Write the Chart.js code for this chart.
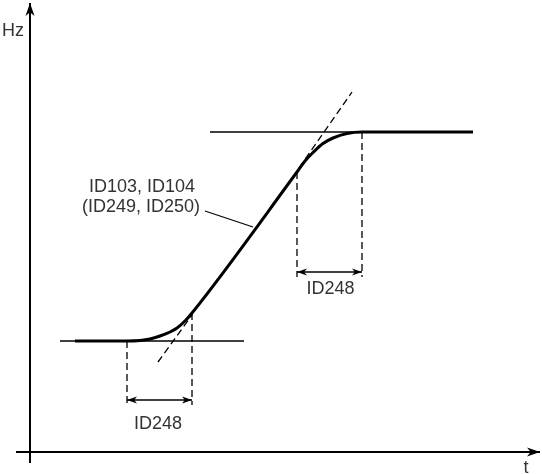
<!DOCTYPE html>
<html>
<head>
<meta charset="utf-8">
<script src="https://cdn.jsdelivr.net/npm/chart.js@4/dist/chart.umd.min.js"></script>
<style>
  html, body { margin: 0; padding: 0; background: #ffffff; }
  #wrap { width: 542px; height: 474px; }
</style>
</head>
<body>
<div id="wrap"><canvas id="c" width="542" height="474"></canvas></div>
<script>
// ---- data (time t, frequency f in arbitrary diagram units) ----
const curveT = [4.5, 9.7, 11.0, 12.0, 13.0, 14.0, 14.7, 15.5, 16.2, 26.7, 27.5, 28.3, 29.3, 30.3, 31.7, 33.2, 44.3];
const curveF = [11.1, 11.1, 11.15, 11.3, 11.6, 12.0, 12.4, 13.1, 13.9, 28.0, 29.1, 29.95, 30.85, 31.4, 31.85, 32.0, 32.0];
const lowLevel = 11.1;
const highLevel = 32.0;
const lowLevelT = [3.0, 21.4];
const highLevelT = [18.0, 44.3];
const lowTangentT = [12.8, 16.2];
const lowTangentF = [9.0, 13.7];
const highTangentT = [26.9, 32.2];
const highTangentF = [28.4, 36.0];
const jerkLowT = [9.7, 16.2];      // ID248 at start of ramp
const jerkHighT = [26.7, 33.2];    // ID248 at end of ramp
const jerkLowTopF = [11.1, 13.9];
const jerkHighTopF = [28.0, 32.0];
const jerkLowBottomF = 4.7;
const jerkHighBottomF = 17.5;
const jerkLowArrowF = 5.2;
const jerkHighArrowF = 18.0;
const leaderT = [17.5, 22.3];
const leaderF = [24.1, 22.5];
const axisT = [-1.4, 51.0];
const axisF = [-1.1, 44.9];
const labels = [
  { text: 'Hz', t: -1.7, f: 41.6 },
  { text: 't', t: 49.6, f: -2.1 },
  { text: 'ID103, ID104', t: 11.2, f: 26.0 },
  { text: '(ID249, ID250)', t: 11.1, f: 24.0 },
  { text: 'ID248', t: 12.8, f: 2.3 },
  { text: 'ID248', t: 30.05, f: 15.8 }
];

// ---- build datasets ----
const pts = (ts, fs) => ts.map((t, i) => ({ x: t, y: Array.isArray(fs) ? fs[i] : fs }));
const base = { showLine: true, pointRadius: 0, pointHoverRadius: 0, fill: false, clip: false, borderColor: '#000', borderCapStyle: 'butt' };
const thin = 1.3;
const dash = [7, 4];

const datasets = [
  Object.assign({}, base, { data: pts([0, 0], axisF), borderWidth: 2, arrow: 'end', headLen: 13, headW: 4.5 }),
  Object.assign({}, base, { data: pts(axisT, [0, 0]), borderWidth: 2, arrow: 'end', headLen: 13, headW: 4.5 }),
  Object.assign({}, base, { data: pts(lowLevelT, lowLevel), borderWidth: thin }),
  Object.assign({}, base, { data: pts(highLevelT, highLevel), borderWidth: thin }),
  Object.assign({}, base, { data: pts(lowTangentT, lowTangentF), borderWidth: thin, borderDash: dash }),
  Object.assign({}, base, { data: pts(highTangentT, highTangentF), borderWidth: thin, borderDash: dash }),
  Object.assign({}, base, { data: pts([jerkLowT[0], jerkLowT[0]], [jerkLowTopF[0], jerkLowBottomF]), borderWidth: thin, borderDash: dash }),
  Object.assign({}, base, { data: pts([jerkLowT[1], jerkLowT[1]], [jerkLowTopF[1], jerkLowBottomF]), borderWidth: thin, borderDash: dash }),
  Object.assign({}, base, { data: pts([jerkHighT[0], jerkHighT[0]], [jerkHighTopF[0], jerkHighBottomF]), borderWidth: thin, borderDash: dash }),
  Object.assign({}, base, { data: pts([jerkHighT[1], jerkHighT[1]], [jerkHighTopF[1], jerkHighBottomF]), borderWidth: thin, borderDash: dash }),
  Object.assign({}, base, { data: pts(jerkLowT, jerkLowArrowF), borderWidth: 1.5, arrow: 'both', headLen: 10, headW: 3.5 }),
  Object.assign({}, base, { data: pts(jerkHighT, jerkHighArrowF), borderWidth: 1.5, arrow: 'both', headLen: 10, headW: 3.5 }),
  Object.assign({}, base, { data: pts(leaderT, leaderF), borderWidth: thin }),
  Object.assign({}, base, { data: pts(curveT, curveF), borderWidth: 3, cubicInterpolationMode: 'monotone', borderJoinStyle: 'round' })
];

function drawHead(ctx, tip, from, len, w) {
  const a = Math.atan2(tip.y - from.y, tip.x - from.x);
  ctx.save();
  ctx.translate(tip.x, tip.y);
  ctx.rotate(a);
  ctx.beginPath();
  ctx.moveTo(0, 0);
  ctx.lineTo(-len, -w);
  ctx.lineTo(-len * 0.72, 0);
  ctx.lineTo(-len, w);
  ctx.closePath();
  ctx.fillStyle = '#000';
  ctx.fill();
  ctx.restore();
}

const decor = {
  id: 'decor',
  afterDatasetsDraw(chart) {
    const ctx = chart.ctx;
    const xs = chart.scales.x, ys = chart.scales.y;
    chart.data.datasets.forEach((ds) => {
      if (!ds.arrow) return;
      const p = ds.data.map(d => ({ x: xs.getPixelForValue(d.x), y: ys.getPixelForValue(d.y) }));
      const n = p.length;
      drawHead(ctx, p[n - 1], p[n - 2], ds.headLen, ds.headW);
      if (ds.arrow === 'both') drawHead(ctx, p[0], p[1], ds.headLen, ds.headW);
    });
    ctx.save();
    ctx.fillStyle = '#333';
    ctx.font = '18px "Liberation Sans", Arial, sans-serif';
    ctx.textAlign = 'center';
    ctx.textBaseline = 'alphabetic';
    labels.forEach(l => {
      ctx.fillText(l.text, xs.getPixelForValue(l.t), ys.getPixelForValue(l.f));
    });
    ctx.restore();
  }
};

new Chart(document.getElementById('c'), {
  type: 'scatter',
  data: { datasets },
  options: {
    responsive: false,
    animation: false,
    events: [],
    layout: { padding: 0 },
    plugins: { legend: { display: false }, tooltip: { enabled: false } },
    scales: {
      x: { type: 'linear', display: false, min: -3, max: 51.2 },
      y: { type: 'linear', display: false, min: -2.2, max: 45.2 }
    }
  },
  plugins: [decor]
});
</script>
</body>
</html>
